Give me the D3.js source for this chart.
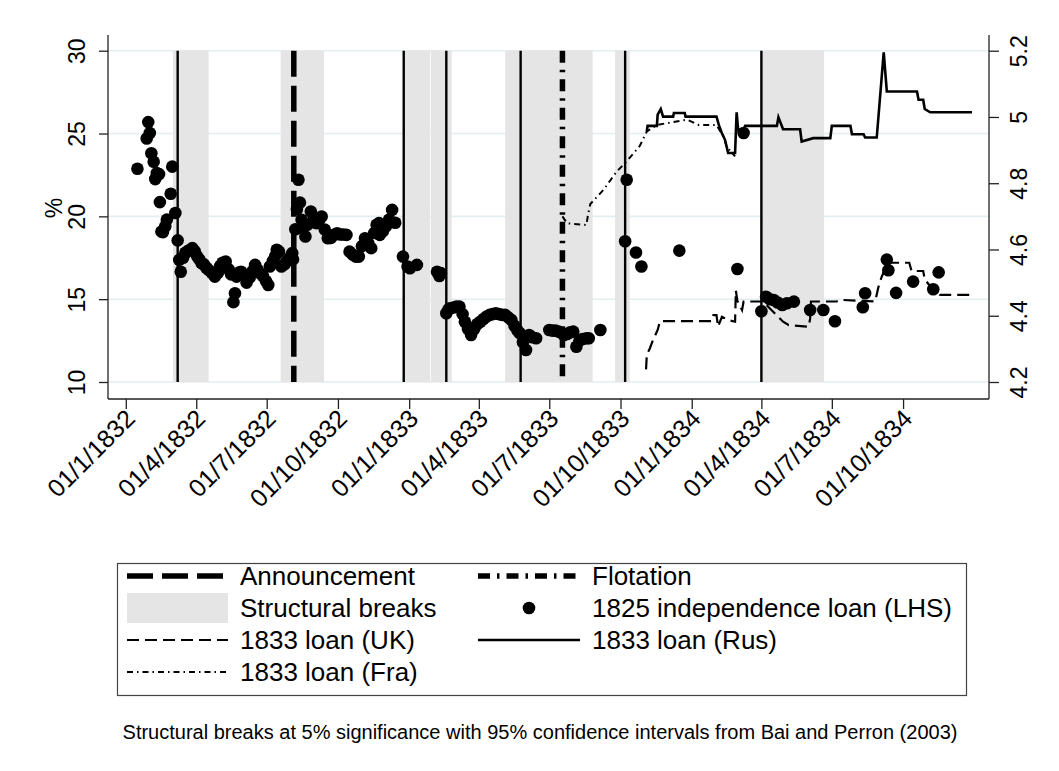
<!DOCTYPE html>
<html>
<head>
<meta charset="utf-8">
<script src="https://cdn.jsdelivr.net/npm/d3@7"></script>
<style>
  body { margin: 0; background: #fff; }
  svg { display: block; font-family: "Liberation Sans", Arial, sans-serif; }
</style>
</head>
<body>
<script>
// 1825 independence loan yield (%, left axis)
const independenceLoan = [
  ['1832-01-16', 22.87], ['1832-01-28', 24.7], ['1832-01-30', 25.69], ['1832-02-01', 25.03],
  ['1832-02-03', 23.81], ['1832-02-06', 23.3], ['1832-02-08', 22.25], ['1832-02-10', 22.61],
  ['1832-02-13', 22.55], ['1832-02-14', 20.86], ['1832-02-16', 19.08], ['1832-02-18', 19.05],
  ['1832-02-21', 19.4], ['1832-02-23', 19.8], ['1832-02-28', 21.36], ['1832-03-01', 23.0],
  ['1832-03-05', 20.2], ['1832-03-08', 18.55], ['1832-03-10', 17.37], ['1832-03-12', 16.66],
  ['1832-03-15', 17.5], ['1832-03-18', 17.8], ['1832-03-21', 17.9], ['1832-03-24', 17.98],
  ['1832-03-27', 18.08], ['1832-03-30', 17.9], ['1832-04-02', 17.6], ['1832-04-05', 17.4],
  ['1832-04-08', 17.17], ['1832-04-11', 17.1], ['1832-04-14', 16.9], ['1832-04-17', 16.77],
  ['1832-04-21', 16.6], ['1832-04-25', 16.36], ['1832-04-29', 16.6], ['1832-05-02', 17.0],
  ['1832-05-05', 17.2], ['1832-05-09', 17.27], ['1832-05-13', 16.8], ['1832-05-16', 16.5],
  ['1832-05-19', 14.82], ['1832-05-21', 15.36], ['1832-05-23', 16.36], ['1832-05-26', 16.6],
  ['1832-05-29', 16.66], ['1832-06-02', 16.4], ['1832-06-05', 16.0], ['1832-06-09', 16.3],
  ['1832-06-13', 16.7], ['1832-06-16', 17.07], ['1832-06-19', 16.8], ['1832-06-22', 16.57],
  ['1832-06-26', 16.4], ['1832-06-30', 16.1], ['1832-07-03', 15.86], ['1832-07-05', 16.97],
  ['1832-07-09', 17.3], ['1832-07-12', 17.6], ['1832-07-14', 17.98], ['1832-07-17', 17.87],
  ['1832-07-20', 16.97], ['1832-07-24', 17.1], ['1832-07-27', 17.3], ['1832-07-31', 17.5],
  ['1832-08-03', 17.78], ['1832-08-04', 17.4], ['1832-08-07', 19.22], ['1832-08-09', 20.43],
  ['1832-08-11', 22.21], ['1832-08-13', 20.83], ['1832-08-15', 19.79], ['1832-08-17', 19.3],
  ['1832-08-20', 18.78], ['1832-08-23', 19.5], ['1832-08-27', 20.29], ['1832-08-31', 19.9],
  ['1832-09-03', 19.59], ['1832-09-07', 19.8], ['1832-09-10', 19.99], ['1832-09-14', 19.2],
  ['1832-09-18', 18.68], ['1832-09-22', 18.7], ['1832-09-26', 18.88], ['1832-09-30', 18.98],
  ['1832-10-04', 18.9], ['1832-10-08', 18.9], ['1832-10-12', 18.88], ['1832-10-16', 17.87],
  ['1832-10-20', 17.7], ['1832-10-24', 17.57], ['1832-10-28', 17.57], ['1832-11-01', 18.2],
  ['1832-11-05', 18.68], ['1832-11-09', 18.4], ['1832-11-13', 18.08], ['1832-11-17', 19.0],
  ['1832-11-20', 19.49], ['1832-11-23', 19.59], ['1832-11-24', 18.88], ['1832-11-28', 19.1],
  ['1832-12-02', 19.4], ['1832-12-06', 19.8], ['1832-12-10', 20.39], ['1832-12-14', 19.61],
  ['1832-12-24', 17.57], ['1832-12-30', 16.97], ['1833-01-02', 16.87], ['1833-01-11', 17.07],
  ['1833-02-06', 16.66], ['1833-02-09', 16.4], ['1833-02-11', 16.57], ['1833-02-18', 14.15],
  ['1833-02-21', 14.4], ['1833-02-23', 14.45], ['1833-02-27', 14.5], ['1833-03-03', 14.55],
  ['1833-03-07', 14.55], ['1833-03-11', 14.1], ['1833-03-14', 13.64], ['1833-03-18', 13.2],
  ['1833-03-22', 12.84], ['1833-03-26', 13.2], ['1833-03-30', 13.5], ['1833-04-03', 13.64],
  ['1833-04-07', 13.8], ['1833-04-11', 13.95], ['1833-04-15', 14.05], ['1833-04-19', 14.1],
  ['1833-04-23', 14.15], ['1833-04-27', 14.1], ['1833-05-01', 14.05], ['1833-05-05', 14.05],
  ['1833-05-09', 13.9], ['1833-05-13', 13.75], ['1833-05-17', 13.4], ['1833-05-21', 13.1],
  ['1833-05-24', 12.94], ['1833-05-28', 12.4], ['1833-06-01', 11.93], ['1833-06-05', 12.84],
  ['1833-06-09', 12.7], ['1833-06-14', 12.64], ['1833-07-01', 13.14], ['1833-07-05', 13.1],
  ['1833-07-09', 13.1], ['1833-07-13', 13.04], ['1833-07-17', 12.95], ['1833-07-20', 12.84],
  ['1833-07-24', 12.9], ['1833-07-28', 13.0], ['1833-08-01', 13.04], ['1833-08-05', 12.13],
  ['1833-08-09', 12.5], ['1833-08-13', 12.6], ['1833-08-18', 12.64], ['1833-08-21', 12.64],
  ['1833-09-05', 13.14], ['1833-10-07', 18.5], ['1833-10-09', 22.21], ['1833-10-21', 17.82],
  ['1833-10-28', 16.97], ['1833-12-16', 17.93], ['1834-03-01', 16.82], ['1834-03-09', 25.03],
  ['1834-04-01', 14.27], ['1834-04-07', 15.15], ['1834-04-12', 15.0], ['1834-04-17', 14.95],
  ['1834-04-22', 14.8], ['1834-04-28', 14.65], ['1834-05-04', 14.75], ['1834-05-13', 14.85],
  ['1834-06-03', 14.35], ['1834-06-20', 14.35], ['1834-07-05', 13.67], ['1834-08-10', 14.51],
  ['1834-08-13', 15.36], ['1834-09-10', 17.39], ['1834-09-12', 16.75], ['1834-09-22', 15.38],
  ['1834-10-14', 16.06], ['1834-11-09', 15.6], ['1834-11-16', 16.62],
];

// 1833 loan yields (%, right axis)
const ukLoan = [
  ['1833-11-03', 4.238], ['1833-11-04', 4.282], ['1833-11-08', 4.302], ['1833-11-12', 4.327],
  ['1833-11-18', 4.357], ['1833-11-21', 4.384], ['1834-01-27', 4.384], ['1834-01-29', 4.402],
  ['1834-02-02', 4.402], ['1834-02-04', 4.367], ['1834-02-09', 4.397], ['1834-02-17', 4.387],
  ['1834-02-26', 4.382], ['1834-02-27', 4.476], ['1834-03-01', 4.445], ['1834-03-07', 4.417],
  ['1834-03-09', 4.443], ['1834-04-03', 4.443], ['1834-04-29', 4.382], ['1834-05-06', 4.372],
  ['1834-06-01', 4.367], ['1834-06-03', 4.392], ['1834-06-04', 4.443], ['1834-07-07', 4.443],
  ['1834-07-12', 4.448], ['1834-08-26', 4.443], ['1834-08-30', 4.485], ['1834-09-03', 4.515],
  ['1834-09-11', 4.56], ['1834-10-09', 4.56], ['1834-10-12', 4.535], ['1834-10-27', 4.535],
  ['1834-10-29', 4.51], ['1834-11-08', 4.48], ['1834-11-18', 4.463], ['1834-12-29', 4.463],
];
const rusLoan = [
  ['1833-11-04', 4.956], ['1833-11-05', 4.973], ['1833-11-17', 4.973], ['1833-11-18', 5.007],
  ['1833-11-22', 5.024], ['1833-11-25', 5.001], ['1833-12-08', 5.001], ['1833-12-09', 5.012],
  ['1833-12-23', 5.012], ['1833-12-24', 5.001], ['1834-02-02', 5.001], ['1834-02-05', 4.976],
  ['1834-02-09', 4.951], ['1834-02-13', 4.931], ['1834-02-17', 4.891], ['1834-02-26', 4.891],
  ['1834-02-28', 5.014], ['1834-03-02', 4.961], ['1834-03-09', 4.961], ['1834-03-11', 4.973],
  ['1834-04-21', 4.973], ['1834-04-23', 4.999], ['1834-04-29', 4.963], ['1834-05-21', 4.963],
  ['1834-05-23', 4.926], ['1834-06-07', 4.936], ['1834-06-29', 4.936], ['1834-07-01', 4.973],
  ['1834-07-25', 4.973], ['1834-07-27', 4.948], ['1834-08-11', 4.948], ['1834-08-13', 4.938],
  ['1834-08-28', 4.938], ['1834-09-06', 5.195], ['1834-09-10', 5.077], ['1834-10-19', 5.077],
  ['1834-10-21', 5.052], ['1834-10-27', 5.052], ['1834-10-29', 5.024], ['1834-11-05', 5.014],
  ['1834-12-29', 5.014],
];
const fraLoan = [
  ['1833-07-18', 4.70], ['1833-07-24', 4.679], ['1833-08-18', 4.674], ['1833-08-20', 4.705],
  ['1833-08-23', 4.737], ['1833-09-09', 4.78], ['1833-09-26', 4.835], ['1833-10-09', 4.866],
  ['1833-10-26', 4.913], ['1833-11-04', 4.956], ['1833-11-17', 4.976], ['1833-12-26', 4.992],
  ['1834-01-10', 4.976], ['1834-02-02', 4.976], ['1834-02-11', 4.941], ['1834-02-15', 4.911],
  ['1834-02-26', 4.881],
];

// Bai-Perron break dates and their 95% confidence intervals
const breakDates = ['1832-03-08', '1832-12-25', '1833-02-18', '1833-05-25', '1833-10-07', '1834-04-01'];
const breakBands = [
  ['1832-03-02', '1832-04-17'], ['1832-07-19', '1832-09-13'], ['1832-12-26', '1833-01-28'],
  ['1833-01-29', '1833-02-25'], ['1833-05-05', '1833-08-26'], ['1833-09-24', '1833-10-13'],
  ['1834-03-31', '1834-06-21'],
];
const announcementDate = '1832-08-05';
const flotationDate = '1833-07-18';

// axis ticks
const xTicks = ['1832-01-01', '1832-04-01', '1832-07-01', '1832-10-01', '1833-01-01', '1833-04-01',
  '1833-07-01', '1833-10-01', '1834-01-01', '1834-04-01', '1834-07-01', '1834-10-01'];
const leftTicks = [10, 15, 20, 25, 30];
const rightTicks = [4.2, 4.4, 4.6, 4.8, 5, 5.2];

// layout
const width = 1059;
const height = 771;
const plot = { left: 108, right: 989, top: 35, bottom: 399 };
const tickFont = 23;
const xTickFont = 25;
const legendFont = 26;

// line patterns shared by plot and legend
const announceDash = '26,9';
const flotationDash = '12,7,2.5,7';
const ukDash = '12,6';
const fraDash = '6,4,1.5,4';

const parse = d3.utcParse('%Y-%m-%d');

const x = d3.scaleUtc()
  .domain([parse('1831-12-09'), parse('1835-01-20')])
  .range([plot.left, plot.right]);
const yL = d3.scaleLinear().domain([10, 30]).range([382, 50.7]);
const yR = d3.scaleLinear().domain([4.2, 5.2]).range([382, 50.7]);

const svg = d3.select('body').append('svg')
  .attr('width', width)
  .attr('height', height);

svg.append('rect')
  .attr('width', width)
  .attr('height', height)
  .attr('fill', '#fff');

// gridlines
svg.append('g')
  .selectAll('line')
  .data(leftTicks)
  .join('line')
  .attr('x1', plot.left)
  .attr('x2', plot.right)
  .attr('y1', (d) => yL(d))
  .attr('y2', (d) => yL(d))
  .attr('stroke', '#e4edf0')
  .attr('stroke-width', 1.6);

// confidence bands
svg.append('g')
  .selectAll('rect')
  .data(breakBands)
  .join('rect')
  .attr('x', (d) => x(parse(d[0])))
  .attr('width', (d) => x(parse(d[1])) - x(parse(d[0])))
  .attr('y', yL(30))
  .attr('height', yL(10) - yL(30))
  .attr('fill', '#e5e5e5');

// vertical markers
const vline = (date, w, dash) => svg.append('line')
  .attr('x1', x(parse(date)))
  .attr('x2', x(parse(date)))
  .attr('y1', yL(30))
  .attr('y2', yL(10))
  .attr('stroke', '#000')
  .attr('stroke-width', w)
  .attr('stroke-dasharray', dash);

breakDates.forEach((d) => vline(d, 2.4, null));
vline(announcementDate, 5.5, announceDash);
vline(flotationDate, 5.5, flotationDash);

// right axis lines
const line = d3.line()
  .x((d) => x(parse(d[0])))
  .y((d) => yR(d[1]));

const series = [
  { data: ukLoan, width: 2.2, dash: ukDash },
  { data: rusLoan, width: 2.6, dash: null },
  { data: fraLoan, width: 2, dash: fraDash },
];
series.forEach((s) => {
  svg.append('path')
    .attr('d', line(s.data))
    .attr('fill', 'none')
    .attr('stroke', '#000')
    .attr('stroke-width', s.width)
    .attr('stroke-dasharray', s.dash);
});

// scatter
svg.append('g')
  .selectAll('circle')
  .data(independenceLoan)
  .join('circle')
  .attr('cx', (d) => x(parse(d[0])))
  .attr('cy', (d) => yL(d[1]))
  .attr('r', 6.3)
  .attr('fill', '#000');

// axes
const axisColor = '#222';
const styleTicks = (g, size) => {
  g.select('.domain').remove();
  g.selectAll('.tick line').attr('stroke', axisColor).attr('stroke-width', 1.3);
  g.selectAll('.tick text')
    .attr('fill', '#000')
    .style('font-size', `${size}px`)
    .style('font-family', '"Liberation Sans", Arial, sans-serif');
};

const gLeft = svg.append('g').attr('transform', `translate(${plot.left},0)`);
d3.axisLeft(yL).tickValues(leftTicks).tickSize(9).tickSizeOuter(0)(gLeft);
styleTicks(gLeft, tickFont);
gLeft.append('line')
  .attr('y1', plot.top)
  .attr('y2', plot.bottom)
  .attr('stroke', axisColor)
  .attr('stroke-width', 1.3);
gLeft.selectAll('.tick text')
  .attr('transform', 'rotate(-90)')
  .attr('x', 0)
  .attr('y', -23)
  .attr('dy', 0)
  .attr('text-anchor', 'middle');

const gRight = svg.append('g').attr('transform', `translate(${plot.right},0)`);
d3.axisRight(yR).tickValues(rightTicks).tickSize(10).tickSizeOuter(0)
  .tickFormat(d3.format('~g'))(gRight);
styleTicks(gRight, tickFont);
gRight.append('line')
  .attr('y1', plot.top)
  .attr('y2', plot.bottom)
  .attr('stroke', axisColor)
  .attr('stroke-width', 1.3);
gRight.selectAll('.tick text')
  .attr('transform', 'rotate(-90)')
  .attr('x', 0)
  .attr('y', 38)
  .attr('dy', 0)
  .attr('text-anchor', 'middle');

const gBottom = svg.append('g').attr('transform', `translate(0,${plot.bottom})`);
d3.axisBottom(x).tickValues(xTicks.map(parse)).tickSize(10).tickSizeOuter(0)
  .tickFormat(d3.utcFormat('%d/%-m/%Y'))(gBottom);
styleTicks(gBottom, xTickFont);
gBottom.append('line')
  .attr('x1', plot.left)
  .attr('x2', plot.right)
  .attr('stroke', axisColor)
  .attr('stroke-width', 1.3);
gBottom.selectAll('.tick text')
  .attr('transform', 'translate(4,15) rotate(-45)')
  .attr('x', 0)
  .attr('y', 0)
  .attr('dy', '0.35em')
  .attr('text-anchor', 'end');

// y-axis title
svg.append('text')
  .attr('transform', 'translate(62,208) rotate(-90)')
  .attr('text-anchor', 'middle')
  .style('font-size', `${tickFont}px`)
  .text('%');

// legend
const legend = svg.append('g');
legend.append('rect')
  .attr('x', 117.5)
  .attr('y', 563.5)
  .attr('width', 849)
  .attr('height', 132)
  .attr('fill', '#fff')
  .attr('stroke', '#444')
  .attr('stroke-width', 1.2);

const rowY = [576, 608, 640, 672];
const col = [{ k0: 127, k1: 228, t: 240 }, { k0: 478, k1: 580, t: 592 }];
const legendItems = [
  { label: 'Announcement', c: 0, r: 0, type: 'line', width: 5.5, dash: announceDash },
  { label: 'Flotation', c: 1, r: 0, type: 'line', width: 5.5, dash: flotationDash },
  { label: 'Structural breaks', c: 0, r: 1, type: 'area' },
  { label: '1825 independence loan (LHS)', c: 1, r: 1, type: 'dot' },
  { label: '1833 loan (UK)', c: 0, r: 2, type: 'line', width: 2.2, dash: ukDash },
  { label: '1833 loan (Rus)', c: 1, r: 2, type: 'line', width: 2.6, dash: null },
  { label: '1833 loan (Fra)', c: 0, r: 3, type: 'line', width: 2, dash: fraDash },
];

legendItems.forEach((it) => {
  const { k0, k1, t } = col[it.c];
  const cy = rowY[it.r];
  if (it.type === 'line') {
    legend.append('line')
      .attr('x1', k0).attr('x2', k1)
      .attr('y1', cy).attr('y2', cy)
      .attr('stroke', '#000')
      .attr('stroke-width', it.width)
      .attr('stroke-dasharray', it.dash);
  } else if (it.type === 'area') {
    legend.append('rect')
      .attr('x', k0).attr('y', cy - 15)
      .attr('width', k1 - k0).attr('height', 30)
      .attr('fill', '#e5e5e5');
  } else {
    legend.append('circle')
      .attr('cx', (k0 + k1) / 2).attr('cy', cy)
      .attr('r', 6.3)
      .attr('fill', '#000');
  }
  legend.append('text')
    .attr('x', t)
    .attr('y', cy)
    .attr('dy', '0.35em')
    .style('font-size', `${legendFont}px`)
    .text(it.label);
});

// note
svg.append('text')
  .attr('x', 540)
  .attr('y', 739)
  .attr('text-anchor', 'middle')
  .style('font-size', '20px')
  .text('Structural breaks at 5% significance with 95% confidence intervals from Bai and Perron (2003)');
</script>
</body>
</html>
